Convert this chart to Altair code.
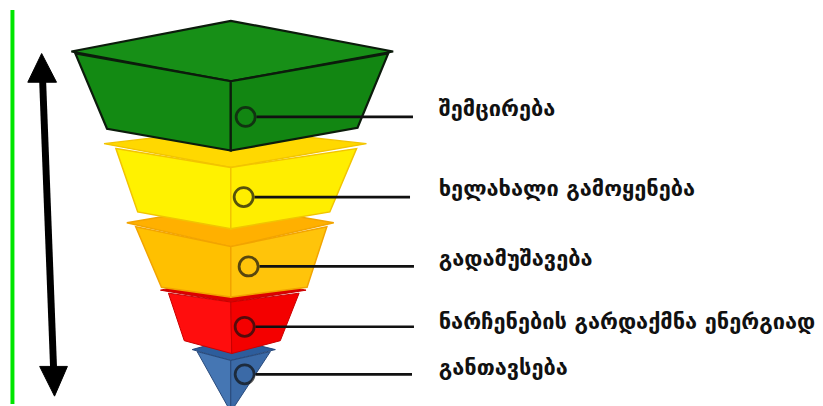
import altair as alt
import pandas as pd

# ---- data (image-space coordinates: x to the right, y downward) ----
labels = ["შემცირება", "ხელახალი გამოყენება", "გადამუშავება",
          "ნარჩენების გარდაქმნა ენერგიად", "განთავსება"]
label_x = [443, 443, 443, 443, 443]
label_y = [108, 189, 260, 323, 370]

ring_x = [248, 246, 251, 247, 247]
ring_y = [116, 197, 267, 328, 376]
leader_end = [417, 414, 418, 418, 416]

# polygons, drawn bottom layer first so upper layers cover hidden backs
poly_ids = ["p00", "p01", "p02",
            "p03", "p04", "p05",
            "p06", "p07", "p08",
            "p09", "p10", "p11",
            "p12", "p13", "p14",
            "p15", "p16"]
poly_x = [
    [194, 233, 278, 233], [199, 233, 233], [233, 273, 233],                    # blue
    [162, 233, 309, 233], [170, 233, 234, 186], [233, 302, 283, 234],          # red
    [128, 233, 337, 233], [137, 233, 233, 163], [233, 330, 310, 233],          # orange
    [105, 233, 370, 233], [117, 233, 233, 139], [233, 360, 333, 233],          # yellow
    [72, 233, 397, 233], [76, 233, 233, 108], [233, 392, 361, 233],            # green
    [28, 42, 57], [40, 55, 68],                                                # arrow heads
]
poly_y = [
    [351, 340, 351, 362], [353, 362, 414], [362, 353, 414],
    [291, 275, 291, 303], [294, 303, 355, 342], [303, 294, 342, 355],
    [223, 205, 223, 247], [227, 247, 298, 288], [247, 227, 288, 298],
    [143, 128, 143, 167], [148, 167, 229, 212], [167, 148, 212, 229],
    [50, 19, 50, 80], [52, 80, 150, 128], [80, 52, 127, 150],
    [81, 52, 81], [368, 398, 368],
]
poly_fill = [
    "#2d5d9c", "#4576b3", "#3b6aa7",
    "#dc0000", "#ff0d0d", "#f40000",
    "#ffb000", "#ffc000", "#ffc40a",
    "#ffd800", "#fff200", "#ffee00",
    "#178f17", "#138a13", "#128612",
    "#000000", "#000000",
]
poly_stroke = [
    "#27497a", "#27497a", "#27497a",
    "#c80000", "#c80000", "#c80000",
    "#f2a400", "#f2a400", "#f2a400",
    "#f2c400", "#f2c400", "#f2c400",
    "#0c1c0c", "#0c1c0c", "#0c1c0c",
    "#000000", "#000000",
]
poly_sw = [1, 1, 1, 1, 1, 1, 1.5, 1.5, 1.5, 1.5, 1.5, 1.5, 2.2, 2.2, 2.2, 1, 1]

shaft_x = [43]
shaft_x2 = [54]
shaft_y = [80]
shaft_y2 = [369]

border_x = [12.5]
border_y = [8]
border_y2 = [406]

# ---- tables ----
rows = []
for pid, xs, ys, f, s, w in zip(poly_ids, poly_x, poly_y, poly_fill, poly_stroke, poly_sw):
    for k, (px, py) in enumerate(zip(xs, ys)):
        rows.append({"pid": pid, "k": k, "x": px, "y": py, "fill": f, "stroke": s, "sw": w})
polys = pd.DataFrame(rows)

items = pd.DataFrame({
    "label": labels, "lx": label_x, "ly": label_y,
    "rx": ring_x, "ry": ring_y, "x0": [a + 11 for a in ring_x], "x1": leader_end,
})
shaft = pd.DataFrame({"x": shaft_x, "x2": shaft_x2, "y": shaft_y, "y2": shaft_y2})
border = pd.DataFrame({"x": border_x, "y": border_y, "y2": border_y2})

xs = alt.Scale(domain=[8, 823], nice=False, zero=False)
ys = alt.Scale(domain=[406, 8], nice=False, zero=False)

def X(f):
    return alt.X(f, type="quantitative", scale=xs, axis=None)

def Y(f):
    return alt.Y(f, type="quantitative", scale=ys, axis=None)

shapes = alt.Chart(polys).mark_line(interpolate="linear-closed").encode(
    x=X("x"), y=Y("y"),
    detail="pid:N",
    order="k:Q",
    fill=alt.Fill("fill:N", scale=None),
    stroke=alt.Stroke("stroke:N", scale=None),
    strokeWidth=alt.StrokeWidth("sw:Q", scale=None),
)

leaders = alt.Chart(items).mark_rule(color="#111111", strokeWidth=2.6).encode(
    x=X("x0"), x2="x1", y=Y("ry"),
)
rings = alt.Chart(items).mark_point(shape="circle", filled=False, size=370,
                                    color="#111111", strokeWidth=2.8).encode(
    x=X("rx"), y=Y("ry"),
)
texts = alt.Chart(items).mark_text(align="left", baseline="middle", font="DejaVu Sans",
                                   fontWeight="bold", fontSize=22, color="#111111").encode(
    x=X("lx"), y=Y("ly"), text="label:N",
)
arrow = alt.Chart(shaft).mark_rule(color="#000000", strokeWidth=7).encode(
    x=X("x"), x2="x2", y=Y("y"), y2="y2",
)
edge = alt.Chart(border).mark_rule(color="#00e600", strokeWidth=4).encode(
    x=X("x"), y=Y("y"), y2="y2",
)

chart = alt.layer(edge, arrow, shapes, leaders, rings, texts).properties(
    width=815, height=398,
    autosize=alt.AutoSizeParams(type="none"),
    padding=0,
    background="white",
).configure_view(stroke=None)

chart.save("out.html", embed_options={"renderer": "svg", "actions": False})
